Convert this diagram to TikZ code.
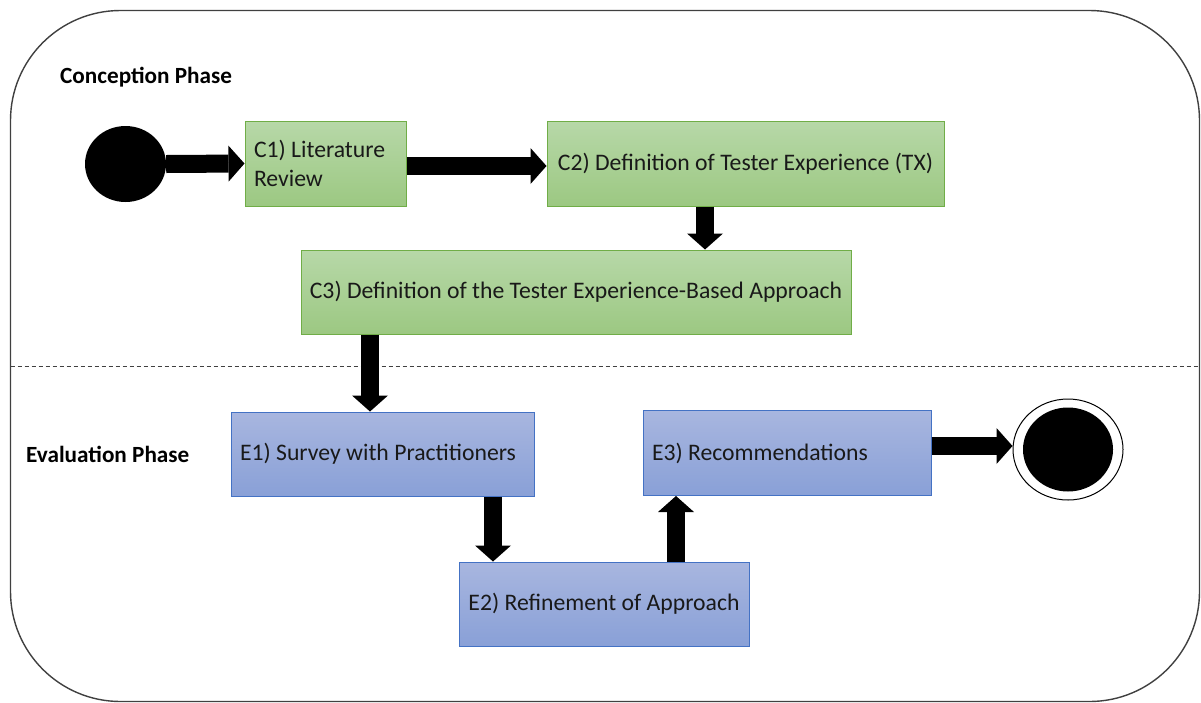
\documentclass[tikz,border=0pt]{standalone}
\usepackage{fontspec}
\setmainfont{Carlito}
\usetikzlibrary{shapes.geometric,arrows.meta}

\definecolor{greentop}{RGB}{183,216,168}
\definecolor{greenbot}{RGB}{156,200,130}
\definecolor{greenline}{RGB}{112,173,71}
\definecolor{bluetop}{RGB}{168,182,223}
\definecolor{bluebot}{RGB}{137,160,215}
\definecolor{blueline}{RGB}{68,114,196}
\definecolor{frameline}{RGB}{64,64,64}
\definecolor{txt}{RGB}{25,25,25}

\tikzset{
  boxtext/.style={font=\fontsize{23.7}{29}\selectfont, text=txt},
  greenbox/.style={rectangle, draw=greenline, line width=1pt, top color=greentop, bottom color=greenbot, boxtext, inner sep=0pt},
  bluebox/.style={rectangle, draw=blueline, line width=1pt, top color=bluetop, bottom color=bluebot, boxtext, inner sep=0pt},
  phaselabel/.style={font=\bfseries\fontsize{23.2}{26}\selectfont, text=black, anchor=west, inner sep=0pt},
  flow/.style={line width=18pt, black, -{Triangle[length=16pt,width=36pt,line width=0pt]}},
  startdot/.style={ellipse, fill=black, minimum width=81pt, minimum height=76pt, inner sep=0pt},
  enddot/.style={ellipse, draw=black, line width=1pt, fill=white, minimum width=110pt, minimum height=101pt, inner sep=0pt},
}

\begin{document}
\begin{tikzpicture}[x=1pt,y=-1pt]
\useasboundingbox (0,0) rectangle (1201,702);

% outer frame and phase separator
\draw[frameline, line width=1.4pt, rounded corners=110pt] (10.5,10.5) rectangle (1199.5,701.5);
\draw[frameline, line width=0.9pt, dash pattern=on 4pt off 3pt] (10.5,366) -- (1199.5,366);

\node[phaselabel] (lblC) at (60,77) {Conception Phase};
\node[phaselabel] (lblE) at (26,454) {Evaluation Phase};

% start and end states
\node[startdot] (start) at (125.5,164) {};
\node[enddot] (end) at (1068,449.5) {};
\node[ellipse, fill=black, minimum width=90pt, minimum height=84pt, inner sep=0pt] (endin) at (end.center) {};

% conception activities
\node[greenbox, minimum width=161pt, minimum height=85pt, text width=143pt, align=flush left] (C1) at (325.5,163.5) {C1) Literature\\Review};
\node[greenbox, minimum width=397pt, minimum height=85pt, align=center] (C2) at (745.5,163.5) {C2) Definition of Tester Experience (TX)};
\node[greenbox, minimum width=550pt, minimum height=84pt, align=center] (C3) at (576,292) {C3) Definition of the Tester Experience-Based Approach};

% evaluation activities
\node[bluebox, minimum width=303pt, minimum height=84pt, text width=285pt, align=flush left] (E1) at (382.5,454) {E1) Survey with Practitioners};
\node[bluebox, minimum width=290pt, minimum height=84pt, align=center] (E2) at (604,604) {E2) Refinement of Approach};
\node[bluebox, minimum width=288pt, minimum height=85pt, text width=270pt, align=flush left] (E3) at (787,453) {E3) Recommendations};

% control flow
\draw[flow] (start.east) -- (C1.west);
\draw[flow] ([yshift=-2.5pt]C1.east) -- ([yshift=-2.5pt]C1.east -| C2.west);
\draw[flow] ([xshift=-40.5pt]C2.south) -- ([xshift=-40.5pt]C2.south |- C3.north);
\draw[flow] ([xshift=-12.5pt]E1.north |- C3.south) -- ([xshift=-12.5pt]E1.north);
\draw[flow] ([xshift=110.5pt]E1.south) -- ([xshift=110.5pt]E1.south |- E2.north);
\draw[flow] ([xshift=-111pt]E3.south |- E2.north) -- ([xshift=-111pt]E3.south);
\draw[flow] ([yshift=7pt]E3.east) -- ([yshift=7pt]E3.east -| end.west);
\end{tikzpicture}
\end{document}
